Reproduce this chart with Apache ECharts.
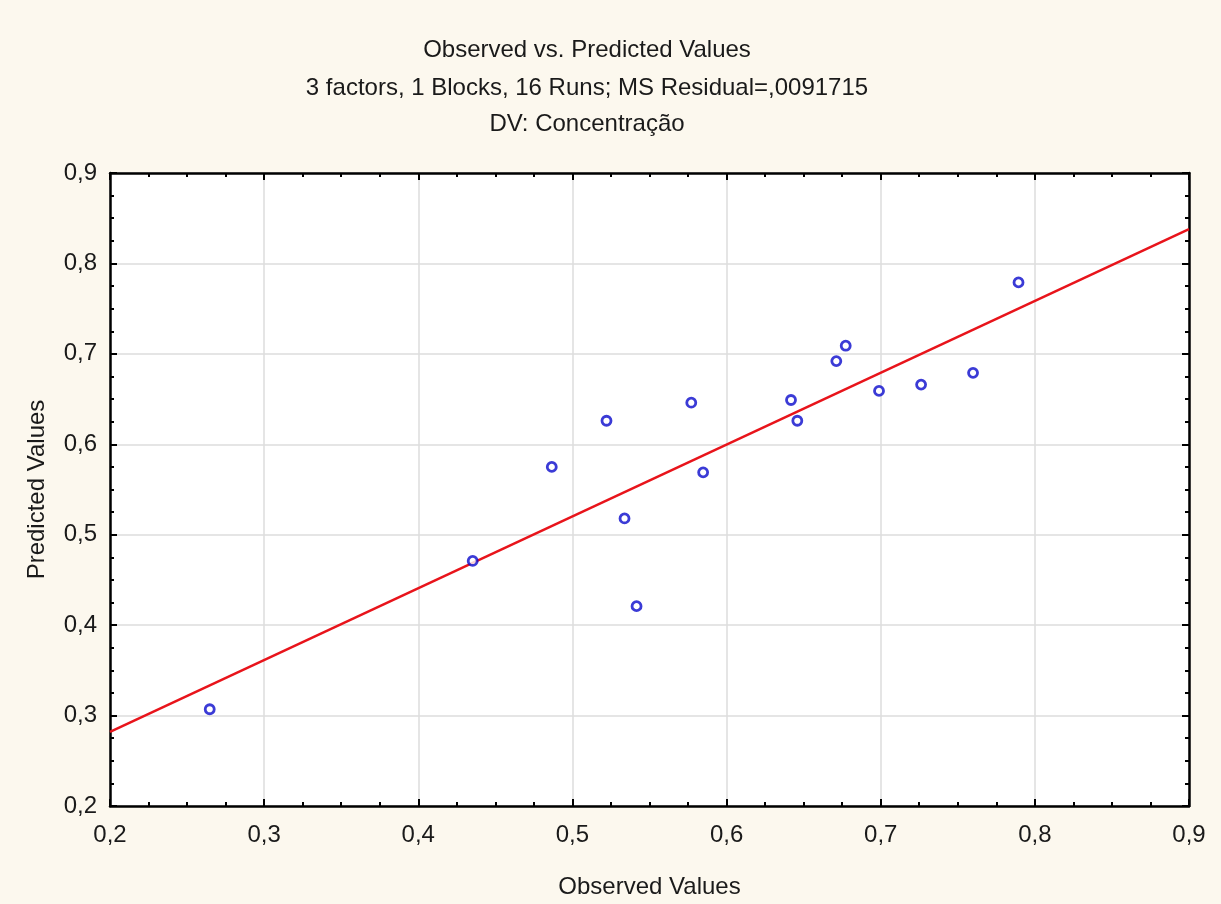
<!DOCTYPE html>
<html>
<head>
<meta charset="utf-8">
<script src="https://cdn.jsdelivr.net/npm/echarts@6/dist/echarts.min.js"></script>
<style>
html,body{margin:0;padding:0;background:#fcf8ee;}
#main{width:1221px;height:904px;}
</style>
</head>
<body>
<div id="main"></div>
<script>
// Data
const observed = [0.2647, 0.4353, 0.4866, 0.5221, 0.5338, 0.5416, 0.5771, 0.5848, 0.6418, 0.6459, 0.6712, 0.6773, 0.6989, 0.7262, 0.7599, 0.7894];
const predicted = [0.307, 0.471, 0.575, 0.626, 0.518, 0.421, 0.646, 0.569, 0.649, 0.626, 0.692, 0.709, 0.659, 0.666, 0.679, 0.779];
const fitLineX = [0.2, 0.9];
const fitLineY = [0.282, 0.838];
const titleLines = ['Observed vs. Predicted Values', '3 factors, 1 Blocks, 16 Runs; MS Residual=,0091715', 'DV: Concentração'];
const xName = 'Observed Values';
const yName = 'Predicted Values';

const points = observed.map((x, i) => [x, predicted[i]]);
const fitLine = fitLineX.map((x, i) => [x, fitLineY[i]]);

const fontFamily = '"Liberation Sans", Arial, sans-serif';
const fmt = v => v.toFixed(1).replace('.', ',');

const baseAxis = {
  type: 'value', min: 0.2, max: 0.9, interval: 0.1,
  axisLine: { show: true, onZero: false, lineStyle: { color: '#000', width: 2.5 } },
  axisTick: { show: true, inside: true, length: 7, lineStyle: { color: '#000', width: 2 } },
  minorTick: { show: true, splitNumber: 4, length: 4, lineStyle: { color: '#000', width: 2 } },
  splitLine: { show: false },
  axisLabel: { show: false }
};

const chart = echarts.init(document.getElementById('main'), null, { renderer: 'canvas' });
chart.setOption({
  backgroundColor: '#fcf8ee',
  animation: false,
  textStyle: { fontFamily },
  title: titleLines.map((t, i) => ({
    text: t, left: 582, top: [33, 71, 107][i], textAlign: 'center',
    textStyle: { fontFamily, fontSize: 24, fontWeight: 'normal', color: '#1a1a1a' }
  })),
  grid: { left: 110, right: 32, top: 173, bottom: 98, show: true, backgroundColor: '#ffffff', borderWidth: 0 },
  xAxis: [
    Object.assign({}, baseAxis, {
      position: 'bottom',
      name: xName, nameLocation: 'middle', nameGap: 69,
      nameTextStyle: { fontFamily, fontSize: 24, color: '#1a1a1a' },
      splitLine: { show: true, lineStyle: { color: '#dcdcdc', width: 1.5 } },
      axisLabel: { show: true, formatter: fmt, fontSize: 24, color: '#1a1a1a', margin: 17, fontFamily }
    }),
    Object.assign({}, baseAxis, { position: 'top' })
  ],
  yAxis: [
    Object.assign({}, baseAxis, {
      position: 'left',
      name: yName, nameLocation: 'middle', nameGap: 61, nameRotate: 90,
      nameTextStyle: { fontFamily, fontSize: 24, color: '#1a1a1a' },
      splitLine: { show: true, lineStyle: { color: '#dcdcdc', width: 1.5 } },
      axisLabel: { show: true, formatter: fmt, fontSize: 24, color: '#1a1a1a', margin: 13, fontFamily }
    }),
    Object.assign({}, baseAxis, { position: 'right' })
  ],
  series: [
    {
      type: 'line', data: fitLine, xAxisIndex: 0, yAxisIndex: 0,
      showSymbol: false, symbol: 'none',
      lineStyle: { color: '#e8141b', width: 2.5 }, z: 3
    },
    {
      type: 'scatter', data: points, xAxisIndex: 0, yAxisIndex: 0,
      symbol: 'circle', symbolSize: 9,
      itemStyle: { color: '#ffffff', borderColor: '#0a0acc', borderWidth: 2.8 }, z: 4
    }
  ]
});
</script>
</body>
</html>
